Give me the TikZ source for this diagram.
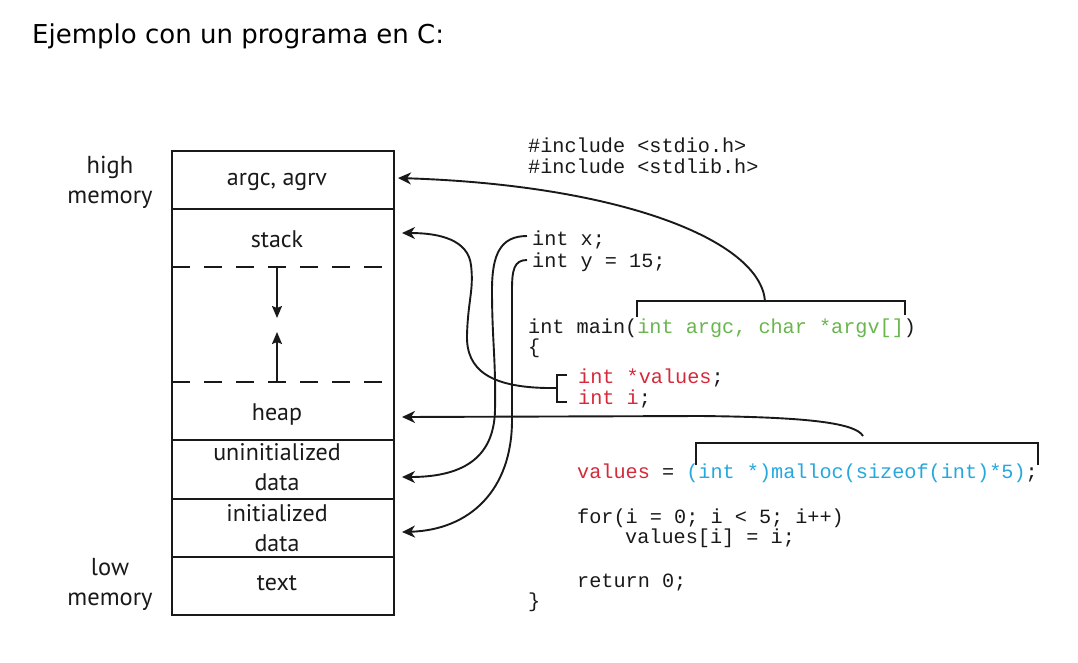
\documentclass[tikz,border=0pt]{standalone}
\usepackage{fontspec}
\setmainfont{PT Sans}
\newfontfamily\titlefont{DejaVu Sans}
\newfontfamily\codefont{Liberation Mono}
\usetikzlibrary{arrows.meta}
\definecolor{codered}{RGB}{214,42,58}
\definecolor{codegreen}{RGB}{105,182,78}
\definecolor{codeblue}{RGB}{38,168,222}
\definecolor{ink}{RGB}{25,25,25}
\tikzset{
  memlabel/.style={anchor=base, inner sep=0pt, font=\fontsize{24}{28}\selectfont, text=ink},
  sidelabel/.style={anchor=base, inner sep=0pt, font=\fontsize{24.5}{28}\selectfont, text=ink},
  code/.style={anchor=base west, inner sep=0pt, font=\codefont\fontsize{20.2}{24}\selectfont, text=ink},
  memline/.style={line width=1.7pt, draw=ink},
  dashline/.style={line width=1.7pt, draw=ink, dash pattern=on 18pt off 14pt},
  conn/.style={line width=1.9pt, draw=ink, -{Stealth[length=13pt,width=12pt,inset=4pt]}},
  inarrow/.style={line width=1.7pt, draw=ink, -{Stealth[length=12pt,width=10pt,inset=2pt]}},
  brack/.style={line width=1.9pt, draw=ink},
}
\begin{document}
\frenchspacing
\begin{tikzpicture}[x=1pt,y=-1pt]
\fill[white] (0,0) rectangle (1078,662);
\useasboundingbox (0,0) rectangle (1078,662);

% title
\node[anchor=base west, inner sep=0pt, font=\titlefont\fontsize{26}{30}\selectfont, text=black] (title) at (32,43) {Ejemplo con un programa en C:};

% memory box
\draw[memline] (172,151) rectangle (394,615);
\draw[memline] (172,209) -- (394,209);
\draw[memline] (172,440) -- (394,440);
\draw[memline] (172,499) -- (394,499);
\draw[memline] (172,557) -- (394,557);
\draw[dashline] (172,267) -- (394,267);
\draw[dashline] (172,382) -- (394,382);
\coordinate (dtop) at (277,267);
\coordinate (dtopend) at (277,318);
\coordinate (dbot) at (277,382);
\coordinate (dbotend) at (277,332);
\draw[inarrow] (dtop) -- (dtopend);
\draw[inarrow] (dbot) -- (dbotend);

\node[memlabel] (argc) at (277,185) {argc, agrv};
\node[memlabel] (stack) at (277,247) {stack};
\node[memlabel] (heap) at (277,420) {heap};
\node[memlabel] (uninit1) at (277,460) {uninitialized};
\node[memlabel] (uninit2) at (277,490) {data};
\node[memlabel] (init1) at (277,521) {initialized};
\node[memlabel] (init2) at (277,551) {data};
\node[memlabel] (text) at (277,590) {text};

\node[sidelabel] (high1) at (110,173) {high};
\node[sidelabel] (high2) at (110,203) {memory};
\node[sidelabel] (low1) at (110,575) {low};
\node[sidelabel] (low2) at (110,605) {memory};

% code
\node[code] (inc1) at (528,152) {\#include <stdio.h>};
\node[code] (inc2) at (528,173) {\#include <stdlib.h>};
\node[code] (vx) at (532,245) {int x;};
\node[code] (vy) at (532,267) {int y = 15;};
\node[code] (main) at (528,333) {int main(\textcolor{codegreen}{int argc, char *argv[]})};
\node[code] (lbrace) at (528,353) {\{};
\node[code] (lv) at (578,383) {\textcolor{codered}{int *values};};
\node[code] (li) at (578,404) {\textcolor{codered}{int i};};
\node[code] (assign) at (577,478) {\textcolor{codered}{values} = \textcolor{codeblue}{(int *)malloc(sizeof(int)*5)};};
\node[code] (for) at (577,523) {for(i = 0; i < 5; i++)};
\node[code] (body) at (625,543) {values[i] = i;};
\node[code] (ret) at (577,587) {return 0;};
\node[code] (rbrace) at (528,607) {\}};

% targets on the memory box
\coordinate (argcR) at (398,178);
\coordinate (stackR) at (402,233);
\coordinate (heapR) at (402,417);
\coordinate (uninitR) at (402,477);
\coordinate (initR) at (402,532);

% brackets
\coordinate (abL) at (637,317);
\coordinate (abR) at (905,315);
\coordinate (abTop) at (765,301);
\draw[brack] (abL) -- (637,301) -- (905,301) -- (abR);

\coordinate (mbL) at (696,465);
\coordinate (mbR) at (1038,465);
\coordinate (mbTop) at (863,436);
\draw[brack] (mbL) -- (696,443) -- (1038,443) -- (mbR);

\coordinate (lbTop) at (567,375);
\coordinate (lbBot) at (567,402);
\coordinate (lbMid) at (557,388);
\draw[brack] (lbTop) -- (557,375) -- (557,402) -- (lbBot);

\coordinate (xStart) at (527,236);
\coordinate (yStart) at (527,260);

% connectors
\draw[conn] (abTop) .. controls (760,240) and (620,185) .. (argcR);
\draw[conn] (lbMid) .. controls (490,389) and (466,370) .. (467,335)
  .. controls (468,300) and (474,290) .. (471,265)
  .. controls (468,240) and (440,233) .. (stackR);
\draw[conn] (mbTop) .. controls (855,422) and (800,417) .. (700,416) -- (heapR);
\draw[conn] (xStart) .. controls (500,236) and (492,255) .. (492,290)
  .. controls (492,340) and (496,360) .. (495,410)
  .. controls (494,460) and (460,477) .. (uninitR);
\draw[conn] (yStart) .. controls (514,260) and (512,270) .. (512,290) -- (512,420)
  .. controls (512,490) and (470,530) .. (initR);
\end{tikzpicture}
\end{document}
